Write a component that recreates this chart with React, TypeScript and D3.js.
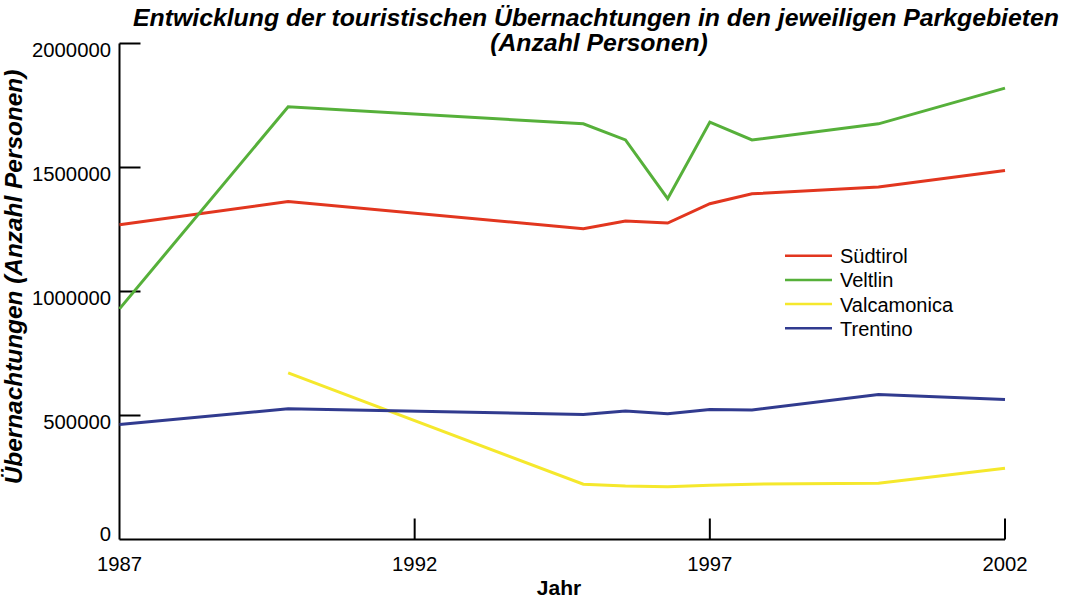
import React from "react";
import * as d3 from "d3";

const years: number[] = [1987, 1989.857, 1994.857, 1995.571, 1996.286, 1997, 1997.714, 1999.857, 2002];
const suedtirol: (number | null)[] = [1269000, 1363000, 1253000, 1284000, 1276000, 1354000, 1394000, 1421000, 1488000];
const veltlin: (number | null)[] = [930000, 1745000, 1676000, 1611000, 1374000, 1683000, 1611000, 1676000, 1820000];
const valcamonica: (number | null)[] = [null, 672000, 223000, 216000, 213000, 219000, 223000, 227000, 287000];
const trentino: (number | null)[] = [464000, 527000, 504000, 518000, 507000, 524000, 522000, 585000, 565000];

const seriesNames = ["Südtirol", "Veltlin", "Valcamonica", "Trentino"];
const seriesValues = [suedtirol, veltlin, valcamonica, trentino];
const seriesColors = ["#e2361f", "#56b03a", "#f5e82c", "#313b8f"];

const yTicks = [0, 500000, 1000000, 1500000, 2000000];
const xTicks = [1987, 1992, 1997, 2002];

const title1 = "Entwicklung der touristischen Übernachtungen in den jeweiligen Parkgebieten";
const title2 = "(Anzahl Personen)";
const yTitle = "Übernachtungen (Anzahl Personen)";
const xTitle = "Jahr";

export default function App() {
  const W = 1065, H = 603;
  const x = d3.scaleLinear().domain([1987, 2002]).range([119.5, 1005]);
  const y = d3.scaleLinear().domain([0, 2000000]).range([539.5, 43.5]);
  const font = "Arial, 'Liberation Sans', Helvetica, sans-serif";

  const line = d3
    .line<[number, number | null]>()
    .defined((d) => d[1] !== null)
    .x((d) => x(d[0]))
    .y((d) => y(d[1] as number));

  return (
    <svg
      width={W}
      height={H}
      style={{ position: "absolute", left: 0, top: 0, background: "#fff" }}
      fontFamily={font}
    >
      <text x={596} y={25.5} textAnchor="middle" fontSize={24.8} fontWeight="bold" fontStyle="italic">
        {title1}
      </text>
      <text x={599} y={51} textAnchor="middle" fontSize={24.8} fontWeight="bold" fontStyle="italic">
        {title2}
      </text>

      {/* axes */}
      <line x1={x(1987)} x2={x(1987)} y1={y(2000000)} y2={y(0)} stroke="#000" strokeWidth={2} />
      <line x1={x(1987)} x2={x(2002)} y1={y(0)} y2={y(0)} stroke="#000" strokeWidth={2} />
      {yTicks.filter((t) => t > 0).map((t) => (
        <line key={"yt" + t} x1={x(1987)} x2={x(1987) + 21} y1={y(t)} y2={y(t)} stroke="#000" strokeWidth={2} />
      ))}
      {xTicks.filter((t) => t > 1987).map((t) => (
        <line key={"xt" + t} x1={x(t)} x2={x(t)} y1={y(0)} y2={y(0) - 21} stroke="#000" strokeWidth={2} />
      ))}
      {yTicks.map((t) => (
        <text key={"yl" + t} x={111} y={t === 0 ? y(t) + 1 : y(t) + 13} textAnchor="end" fontSize={20.3}>
          {t}
        </text>
      ))}
      {xTicks.map((t) => (
        <text key={"xl" + t} x={x(t)} y={570.5} textAnchor="middle" fontSize={20.3}>
          {t}
        </text>
      ))}
      <text x={559} y={595} textAnchor="middle" fontSize={21} fontWeight="bold">
        {xTitle}
      </text>
      <text
        transform={`translate(22, 277) rotate(-90)`}
        textAnchor="middle"
        fontSize={24.4}
        fontWeight="bold"
        fontStyle="italic"
      >
        {yTitle}
      </text>

      {/* series */}
      {seriesValues.map((vals, i) => (
        <path
          key={seriesNames[i]}
          d={line(years.map((yr, j) => [yr, vals[j]] as [number, number | null])) || ""}
          fill="none"
          stroke={seriesColors[i]}
          strokeWidth={3}
          strokeLinejoin="miter"
        />
      ))}

      {/* legend */}
      {seriesNames.map((n, i) => {
        const ly = 255.7 + i * 24.2;
        return (
          <g key={"lg" + n}>
            <line x1={785} x2={832} y1={ly} y2={ly} stroke={seriesColors[i]} strokeWidth={2.5} />
            <text x={840} y={ly + 7.5} fontSize={20}>
              {n}
            </text>
          </g>
        );
      })}
    </svg>
  );
}
